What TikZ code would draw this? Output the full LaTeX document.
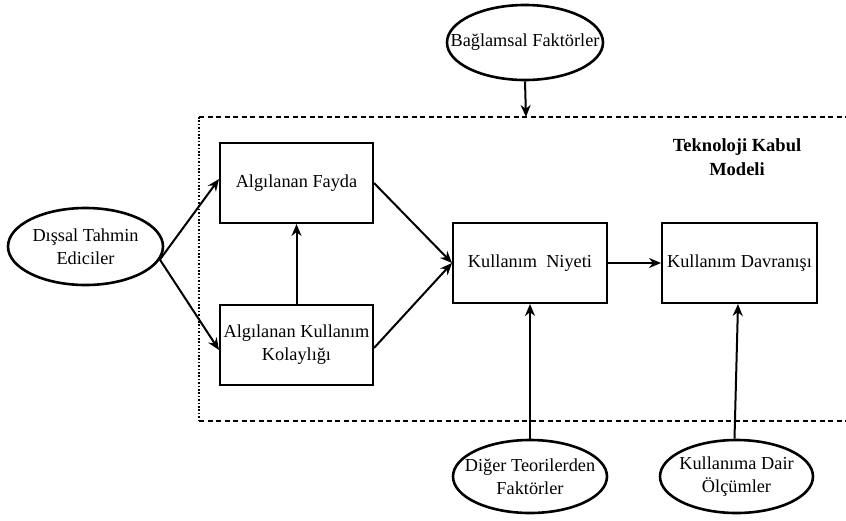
\documentclass[tikz,border=0pt]{standalone}
\usepackage{fontspec}
\setmainfont{Liberation Serif}
\usetikzlibrary{shapes.geometric,arrows.meta}
\begin{document}
\begin{tikzpicture}[x=1pt,y=-1pt,
  txt/.style={font=\fontsize{18.3}{23}\selectfont, align=center, inner sep=0pt},
  stagebox/.style={draw, line width=2pt, minimum width=153pt, minimum height=80pt, inner sep=0pt},
  oval/.style={draw, ellipse, line width=2.6pt, inner sep=0pt},
  arr/.style={line width=2pt, -{Stealth[length=12pt,width=10pt]}},
  framedash/.style={line width=1.5pt, dash pattern=on 5pt off 3.5pt},
  framedot/.style={line width=1.8pt, dash pattern=on 1.6pt off 1.8pt}
]
\useasboundingbox (0,0) rectangle (846,520);

% model frame (open on the right)
\coordinate (ftl) at (199,117);
\coordinate (fbl) at (199,421);
\coordinate (ftr) at (846,117);
\coordinate (fbr) at (846,421);
\coordinate (ftop) at (526,117);
\draw[framedash] (ftl) -- (ftr);
\draw[framedash] (fbl) -- (fbr);
\draw[framedot] (ftl) -- (fbl);
\node[txt, font=\fontsize{18.5}{24.5}\selectfont\bfseries] (title) at (737,157) {Teknoloji Kabul\\Modeli};

% external factors
\node[oval, minimum width=156pt, minimum height=75pt] (bag) at (525,42.5) {};
\node[txt] (bagt) at (bag.center) {Bağlamsal Faktörler};
\node[oval, minimum width=155pt, minimum height=77pt] (dis) at (85.5,246.5) {};
\node[txt] (dist) at (dis.center) {Dışsal Tahmin\\Ediciler};
\node[oval, minimum width=154pt, minimum height=73pt] (dig) at (530,476.5) {};
\node[txt] (digt) at (dig.center) {Diğer Teorilerden\\Faktörler};
\node[oval, minimum width=153pt, minimum height=73pt] (olc) at (736.5,476.5) {};
\node[txt] (olct) at (olc.center) {Kullanıma Dair\\Ölçümler};

% model constructs
\node[stagebox] (fay) at (296.5,183) {};
\node[txt] (fayt) at (fay.center) {Algılanan Fayda};
\node[stagebox] (kol) at (296.5,345) {};
\node[txt] (kolt) at (kol.center) {Algılanan Kullanım\\Kolaylığı};
\node[stagebox, minimum width=154pt] (niy) at (530,263) {};
\node[txt] (niyt) at (niy.center) {Kullanım\ \ Niyeti};
\node[stagebox, minimum width=155pt] (dav) at (739.5,263) {};
\node[txt] (davt) at (dav.center) {Kullanım Davranışı};

% connectors
\draw[arr] (bag.south) -- (ftop);
\draw[arr] (dis.-10) -- ([yshift=4pt]fay.west);
\draw[arr] (dis.-10) -- ([yshift=-5pt]kol.west);
\draw[arr] (kol.north) -- (fay.south);
\draw[arr] (fay.east) -- (niy.west);
\draw[arr] ([yshift=-3pt]kol.east) -- (niy.west);
\draw[arr] (niy.east) -- (dav.west);
\draw[arr] (dig.north) -- (niy.south);
\draw[arr] ([xshift=-2pt]olc.north) -- ([xshift=-1.5pt]dav.south);
\end{tikzpicture}
\end{document}
